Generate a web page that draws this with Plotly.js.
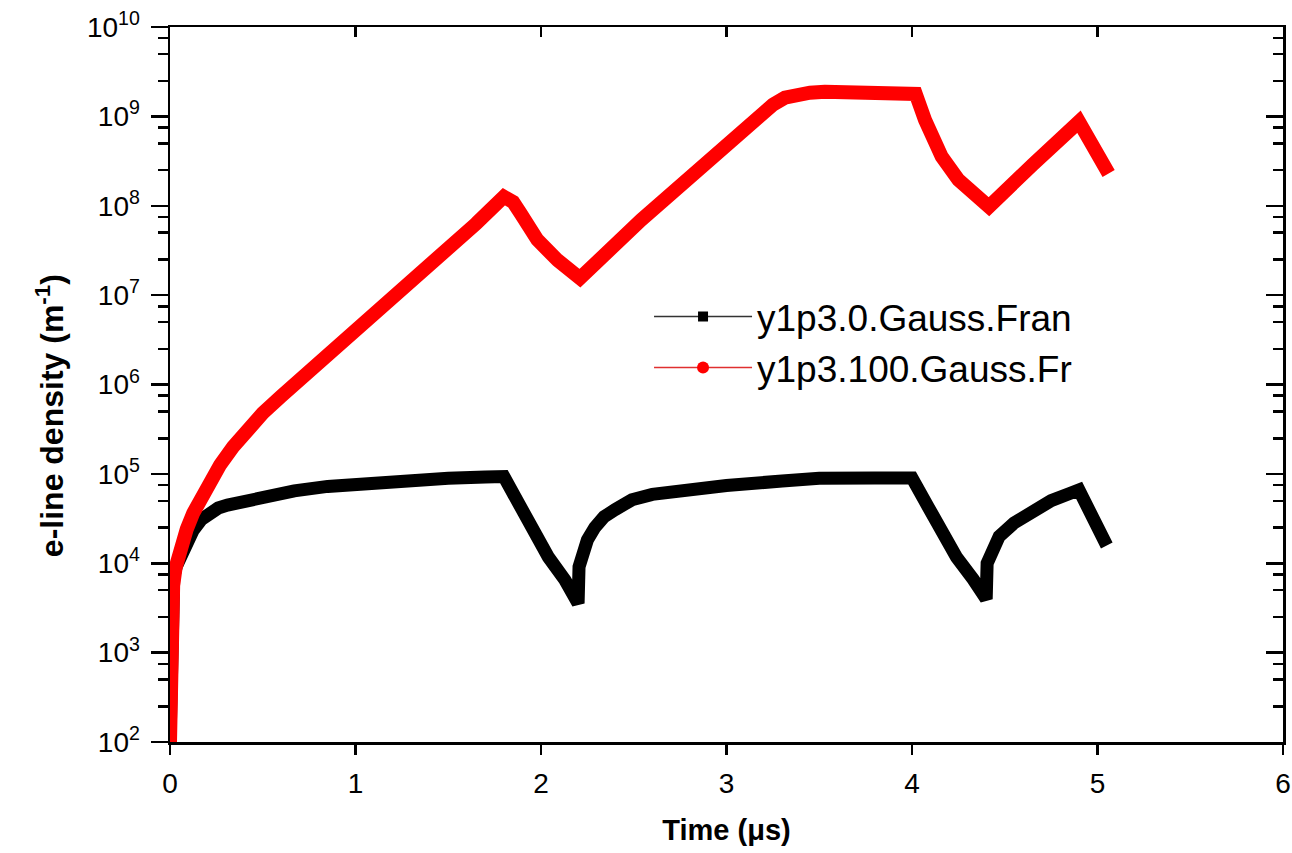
<!DOCTYPE html>
<html>
<head>
<meta charset="utf-8">
<script src="https://cdn.plot.ly/plotly-3.0.1.min.js"></script>
<style>html,body{margin:0;padding:0;background:#fff;}#chart{width:1292px;height:853px;}</style>
</head>
<body>
<div id="chart"></div>
<script>
// Series names
const nameBlack = "y1p3.0.Gauss.Fran";
const nameRed = "y1p3.100.Gauss.Fr";

// Black series (y1p3.0.Gauss.Fran): time in µs, e-line density in m^-1
const tBlack = [0, 0.005, 0.01, 0.02, 0.035, 0.054, 0.07, 0.09, 0.125, 0.17, 0.216, 0.26, 0.31, 0.40, 0.49, 0.67, 0.85, 1.12, 1.3, 1.5, 1.7, 1.8,
  1.89, 1.95, 2.04, 2.13, 2.20,
  2.205, 2.22, 2.25, 2.29, 2.34, 2.40, 2.49, 2.6, 2.8, 3.0, 3.3, 3.5, 3.8, 4.0,
  4.09, 4.15, 4.24, 4.33, 4.40,
  4.405, 4.43, 4.47, 4.55, 4.65, 4.75, 4.85, 4.90, 5.05];
const nBlack = [100, 1000, 3980, 7080, 9330, 11500, 14100, 17400, 23400, 31000, 37200, 41500, 44700, 50000, 55000, 64600, 72400, 81300, 85100, 89100, 92300, 93300,
  42700, 25100, 11700, 6460, 3550,
  9120, 12600, 18200, 25100, 33100, 39800, 51300, 58900, 67600, 74100, 83200, 89100, 90200, 90200,
  41700, 25100, 11700, 6610, 3980,
  10000, 14100, 20000, 28200, 38000, 50100, 60300, 66100, 15800];

// Red series (y1p3.100.Gauss.Fr)
const tRed = [0, 0.005, 0.01, 0.017, 0.03, 0.045, 0.063, 0.09, 0.125, 0.17, 0.216, 0.27, 0.34, 0.42, 0.50, 0.60, 0.70, 1.0, 1.2, 1.46, 1.65, 1.80,
  1.85, 1.89, 1.98, 2.09, 2.21,
  2.54, 2.80, 3.08, 3.14, 3.19, 3.25, 3.315, 3.37, 3.45, 3.53, 3.75, 3.99,
  4.02, 4.07, 4.16, 4.25, 4.34, 4.415,
  4.65, 4.90, 4.955, 5.06];
const nRed = [100, 1000, 3160, 5620, 8910, 12300, 15800, 24000, 36300, 56200, 85100, 1.26e5, 2.0e5, 3.16e5, 4.79e5, 7.4e5, 1.12e6, 3.98e6, 9.12e6, 2.69e7, 6.31e7, 1.26e8,
  1.1e8, 8.22e7, 4.17e7, 2.45e7, 1.55e7,
  6.92e7, 2.14e8, 7.08e8, 8.9e8, 1.07e9, 1.35e9, 1.62e9, 1.76e9, 1.84e9, 1.88e9, 1.905e9, 1.93e9,
  1.78e9, 9.12e8, 3.55e8, 1.95e8, 1.26e8, 9.77e7,
  2.88e8, 8.71e8, 5.5e8, 2.29e8];

// Axis ticks
const xTickVals = [0, 1, 2, 3, 4, 5, 6];
const xTickText = ["0", "1", "2", "3", "4", "5", "6"];
const yDecades = [2, 3, 4, 5, 6, 7, 8, 9, 10];
const minorMantissas = [2.5, 5, 7.5];

const yMajor = yDecades.map(p => Math.pow(10, p));
const yTickText = yDecades.map(p => "10<sup>" + p + "</sup>");
const yMinor = [];
yDecades.slice(0, -1).forEach(p => minorMantissas.forEach(m => yMinor.push(m * Math.pow(10, p))));

const FONT = "Liberation Sans, Arial, sans-serif";
const NB = "\u00a0";

const traces = [
  {x: tBlack, y: nBlack, type: "scatter", mode: "lines", line: {color: "#000000", width: 13},
   showlegend: false, hoverinfo: "skip"},
  {x: tRed, y: nRed, type: "scatter", mode: "lines", line: {color: "#ff0000", width: 14},
   showlegend: false, hoverinfo: "skip"},
  {x: [null], y: [null], type: "scatter", mode: "lines+markers", name: nameBlack,
   line: {color: "#333333", width: 1.5}, marker: {symbol: "square", size: 10, color: "#000000"}},
  {x: [null], y: [null], type: "scatter", mode: "lines+markers", name: nameRed,
   line: {color: "#e03030", width: 1.5}, marker: {symbol: "circle", size: 12, color: "#ff0000"}},
  {x: [null], y: [null], xaxis: "x2", yaxis: "y2", type: "scatter", mode: "lines", showlegend: false, hoverinfo: "skip"}
];

const layout = {
  width: 1292, height: 853,
  margin: {l: 170, r: 9, t: 27, b: 111},
  paper_bgcolor: "#ffffff", plot_bgcolor: "#ffffff",
  font: {family: FONT, size: 28, color: "#000000"},
  showlegend: true,
  legend: {x: 0.4304, y: 0.638, xanchor: "left", yanchor: "top", bgcolor: "rgba(0,0,0,0)",
    font: {family: FONT, size: 37, color: "#000000"}, tracegroupgap: 0, itemwidth: 98},
  xaxis: {
    range: [0, 6], tickmode: "array", tickvals: xTickVals, ticktext: xTickText,
    showgrid: false, zeroline: false, showline: true, linecolor: "#000", linewidth: 2.5,
    ticks: "outside", ticklen: 10, tickwidth: 2.5, tickcolor: "#000", ticklabelstandoff: 5,
    tickfont: {family: FONT, size: 28},
    title: {text: "<b>Time (\u03bcs)</b>", font: {family: FONT, size: 29}, standoff: 22}
  },
  yaxis: {
    type: "log", range: [2, 10], tickmode: "array", tickvals: yMajor, ticktext: yTickText,
    showgrid: false, zeroline: false, showline: true, linecolor: "#000", linewidth: 2.5,
    ticks: "outside", ticklen: 17, tickwidth: 2.5, tickcolor: "#000", ticklabelstandoff: 5,
    minor: {tickmode: "array", tickvals: yMinor, ticks: "outside", ticklen: 10, tickwidth: 2.5, tickcolor: "#000", showgrid: false},
    tickfont: {family: FONT, size: 28},
    title: {text: "<b>e-line density (m<sup>-1</sup>)" + NB.repeat(7) + "</b>", font: {family: FONT, size: 32}, standoff: 14}
  },
  xaxis2: {
    overlaying: "x", side: "top", anchor: "y", range: [0, 6], tickmode: "array", tickvals: xTickVals,
    showticklabels: false, showgrid: false, zeroline: false, showline: true, linecolor: "#000", linewidth: 2.5,
    ticks: "inside", ticklen: 10, tickwidth: 2.5, tickcolor: "#000"
  },
  yaxis2: {
    overlaying: "y", side: "right", anchor: "x", type: "log", range: [2, 10], tickmode: "array", tickvals: yMajor,
    showticklabels: false, showgrid: false, zeroline: false, showline: true, linecolor: "#000", linewidth: 2.5,
    ticks: "inside", ticklen: 17, tickwidth: 2.5, tickcolor: "#000",
    minor: {tickmode: "array", tickvals: yMinor, ticks: "inside", ticklen: 10, tickwidth: 2.5, tickcolor: "#000", showgrid: false}
  }
};

Plotly.newPlot("chart", traces, layout, {displayModeBar: false, staticPlot: true});
</script>
</body>
</html>
